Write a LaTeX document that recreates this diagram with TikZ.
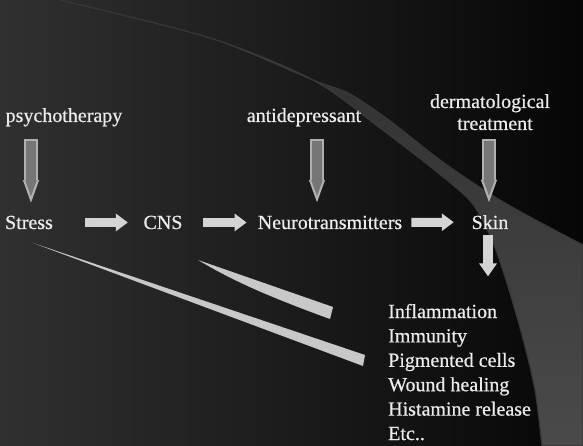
\documentclass[tikz,border=0pt]{standalone}
\usepackage{fontspec}
\setmainfont{Liberation Serif}[FakeBold=0.6]
\usetikzlibrary{arrows.meta, positioning}

\definecolor{bgleft}{HTML}{303030}
\definecolor{bgmid}{HTML}{1C1C1C}
\definecolor{bgright}{HTML}{060606}
\definecolor{bandtop}{HTML}{2E2E2E}
\definecolor{bandbottom}{HTML}{4A4A4A}
\definecolor{bandline}{HTML}{383838}
\definecolor{txtgray}{HTML}{EBEBEB}
\definecolor{arrowgray}{HTML}{D4D4D4}
\definecolor{spikegray}{HTML}{C8C8C8}
\definecolor{pencilrim}{HTML}{B0B0B0}
\definecolor{pencilcore}{HTML}{767676}

\begin{document}
\begin{tikzpicture}[x=1pt, y=-1pt,
    lbl/.style={text=txtgray, inner sep=0pt, font=\fontsize{20}{24}\selectfont},
    blockarrow/.style={draw=arrowgray, line width=9pt, -{Triangle[length=12pt, width=17pt]}},
    pencil/.style 2 args={draw=pencilrim, line width=14pt, -{Triangle[length=25pt, width=14pt]},
        shorten <=#1, shorten >=#2,
        postaction={draw=pencilcore, line width=10pt, -{Triangle[length=18pt, width=10pt]},
            shorten <=#1+2pt, shorten >=#2+7pt}},
    spike/.style={fill=spikegray}]

    % background and swoosh
    \fill[left color=bgleft, middle color=bgmid, right color=bgright] (0,0) rectangle (583,446);
    \begin{scope}
    \clip (0,0) rectangle (583,446);
    \fill[top color=bandtop, bottom color=bandbottom, draw=bandline, line width=1.2pt]
        plot[smooth] coordinates {(60,0) (210,38) (313,80) (380,128) (437,172) (472,203)
            (492,240) (506,280) (522,335) (535,390) (542,446)}
        -- (583,446) -- (583,245)
        -- plot[smooth] coordinates {(583,245) (530,217) (490,194) (440,160) (390,121)
            (350,94) (313,80) (210,38) (60,0)} -- cycle;
    \end{scope}

    % main chain
    \node (stress) [lbl, anchor=base] at (29,229) {Stress};
    \node (cns) [lbl, anchor=base] at (163,229) {CNS};
    \node (neuro) [lbl, anchor=base] at (330,229) {Neurotransmitters};
    \node (skin) [lbl, anchor=base] at (490,229) {Skin};

    % treatments
    \node (psy) [lbl, anchor=base] at (64,122) {psychotherapy};
    \node (anti) [lbl, anchor=base] at (304,122) {antidepressant};
    \node (derm) [lbl, anchor=base] at (490,108) {dermatological};
    \node (treat) [lbl, anchor=base] at (495,130) {treatment};

    % effects on the skin
    \node (infl) [lbl, anchor=base west] at (388,318) {Inflammation};
    \node (imm) [lbl, below=24.4pt of infl.base west, anchor=base west] {Immunity};
    \node (pigm) [lbl, below=24.4pt of imm.base west, anchor=base west] {Pigmented cells};
    \node (wound) [lbl, below=24.4pt of pigm.base west, anchor=base west] {Wound healing};
    \node (hist) [lbl, below=24.4pt of wound.base west, anchor=base west] {Histamine release};
    \node (etc) [lbl, below=24.4pt of hist.base west, anchor=base west] {Etc..};

    \draw[blockarrow, shorten <=32pt, shorten >=15.5pt] (stress) -- (cns);
    \draw[blockarrow, shorten <=20.5pt, shorten >=11pt] (cns) -- (neuro);
    \draw[blockarrow, shorten <=9pt, shorten >=17.7pt] (neuro) -- (skin);
    \draw[blockarrow, line width=10pt, -{Triangle[length=13pt, width=17pt]},
        shorten <=6pt, shorten >=27.3pt] ([xshift=-2pt]skin.south) -- ([xshift=-2pt]skin.south |- infl.north);

    \draw[pencil={12.7pt}{10.5pt}] ([xshift=2pt]stress.north |- psy.south) -- ([xshift=2pt]stress.north);
    \draw[pencil={12.7pt}{10.8pt}] ([xshift=13pt]anti.south) -- ([xshift=13pt]anti.south |- neuro.north);
    \draw[pencil={9pt}{10.3pt}] ([xshift=-1pt]skin.north |- treat.south) -- ([xshift=-1pt]skin.north);

    % spikes
    \coordinate (longtip) at (33,243);
    \coordinate (shorttip) at (198,260);
    \fill[spike] (longtip) -- (365,355) -- (363,366) -- cycle;
    \fill[spike] (shorttip) -- (333,307) -- (330,319) .. controls (250,290) and (222,274) .. (shorttip) -- cycle;
\end{tikzpicture}
\end{document}
